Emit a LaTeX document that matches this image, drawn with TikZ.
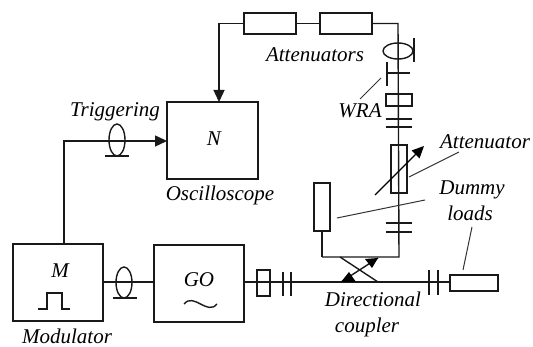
\documentclass[tikz,border=0pt]{standalone}
\usepackage{fontspec}
\setmainfont{Liberation Serif}
\usetikzlibrary{arrows.meta}
\tikzset{
  wire/.style={line width=1.4pt,draw=black!90},
  box/.style={draw=black!90,line width=1.4pt,fill=white,inner sep=0pt,outer sep=0pt},
  lbl/.style={anchor=base,inner sep=0pt,font=\fontsize{21}{22}\selectfont\itshape,text=black},
  leader/.style={line width=1pt,draw=black!80},
  tip/.style={-{Triangle[length=12pt,width=11pt]}}
}
\begin{document}
\begin{tikzpicture}[x=1pt,y=-1pt]
\useasboundingbox (0,0) rectangle (533,347);
% main boxes
\node[box,minimum width=90pt,minimum height=77pt] (M) at (58,282.5) {};
\node[box,minimum width=90pt,minimum height=77pt] (GO) at (199,283.5) {};
\node[box,minimum width=91pt,minimum height=77pt] (N) at (212.5,140.5) {};
\node[box,minimum width=52pt,minimum height=21pt] (A1) at (270,23.5) {};
\node[box,minimum width=52pt,minimum height=21pt] (A2) at (346,23.5) {};
\coordinate (corner) at (398,23.5);
\coordinate (trigcorner) at (64,141);
\coordinate (ntop) at (219,23.5);
\coordinate (junctionL) at (322,257);
\coordinate (junctionR) at (399,257);
\coordinate (mainL) at (244,282);
\coordinate (cplA) at (341,282);
\coordinate (cplB) at (378,258);
% wires
\draw[wire,tip] (A1.west) -- (ntop) -- (N.north -| ntop);
\draw[wire] (A1.east) -- (A2.west);
\draw[wire] (A2.east) -- (corner) -- (junctionR) -- (junctionL);
\draw[wire,tip] (M.north -| trigcorner) -- (trigcorner) -- (N.west |- trigcorner);
\draw[wire] (M.east |- 0,282) -- (GO.west |- 0,282);
% small boxes on lines
\node[box,fill=none,minimum width=26pt,minimum height=12pt] (S1) at (399,100) {};
\node[box,fill=none,minimum width=16pt,minimum height=48pt] (Att) at (399,169) {};
\node[box,minimum width=16pt,minimum height=48pt] (D1) at (322,207) {};
\draw[wire] (D1.south) -- (junctionL);
\node[box,minimum width=48pt,minimum height=16pt] (D2) at (474,283) {};
\draw[wire] (mainL) -- (D2.west |- mainL);
\node[box,fill=none,minimum width=13pt,minimum height=26pt] (S2) at (263.5,283) {};
% flanges
\draw[wire] (387,62) -- (387,86);
\draw[wire] (387,73) -- (410,73);
\foreach \y in {119,127,223,232} \draw[wire] (386,\y) -- (412,\y);
\foreach \x in {283,291} \draw[wire] (\x,272) -- (\x,296);
\foreach \x in {429,438} \draw[wire] (\x,270) -- (\x,295);
% coils
\draw[wire] (124,282.5) ellipse [x radius=8,y radius=15.5];
\draw[wire] (113,298) -- (137,298);
\draw[wire] (117,140) ellipse [x radius=8,y radius=16];
\draw[wire] (105,156) -- (129,156);
\draw[wire] (398,51) ellipse [x radius=15,y radius=8];
\draw[wire] (414,38) -- (414,62);
% attenuator arrow
\draw[leader,-{Triangle[length=12pt,width=11pt]},draw=black,line width=1.2pt] (375,195) -- (424,146);
% coupler
\draw[wire] (340,257) -- (378,282);
\draw[wire] (cplA) -- (cplB);
\fill[black] (cplA) -- (356,282) -- (349,272) -- cycle;
\fill[black] (cplB) -- (365,259) -- (372,268) -- cycle;
% leaders
\draw[leader] (360,99) -- (381,78);
\draw[leader] (409,177) -- (459,152);
\draw[leader] (337,218) -- (425,200);
\draw[leader] (463,270) -- (472,227);
% pulse and sine
\draw[wire] (38,309) -- (47,309) -- (47,293) -- (62,293) -- (62,309) -- (70,309);
\draw[wire] (184,304) .. controls (194,292) and (207,316) .. (217,304);
% labels
\node[lbl] (tM) at (60,278) {M};
\node[lbl] (tGO) at (199,287) {GO};
\node[lbl] (tN) at (214,146) {N};
\node[lbl] (tTrig) at (115,117) {Triggering};
\node[lbl] (tOsc) at (220,201) {Oscilloscope};
\node[lbl] (tAtts) at (315,62) {Attenuators};
\node[lbl] (tWRA) at (360,118) {WRA};
\node[lbl] (tAtt) at (485,149) {Attenuator};
\node[lbl] (tDum) at (472,195) {Dummy};
\node[lbl] (tLoads) at (470,221) {loads};
\node[lbl] (tDir) at (373,307) {Directional};
\node[lbl] (tCoup) at (367,333) {coupler};
\node[lbl] (tMod) at (67,343.5) {Modulator};
\end{tikzpicture}
\end{document}
